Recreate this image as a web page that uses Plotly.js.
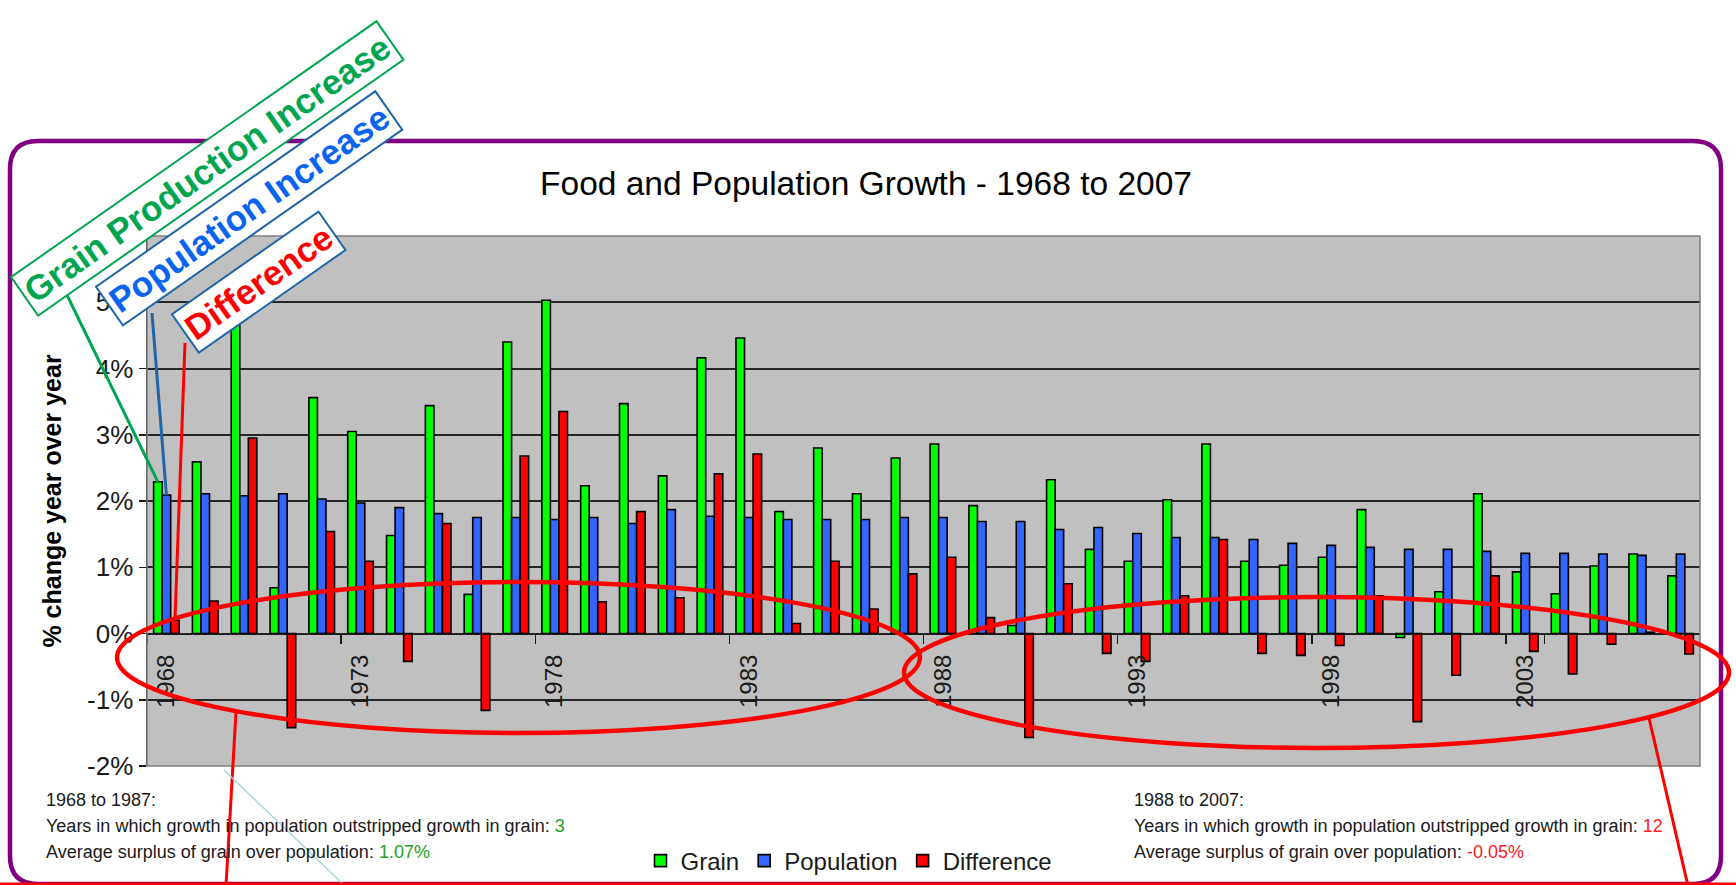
<!DOCTYPE html>
<html>
<head>
<meta charset="utf-8">
<script src="https://cdn.plot.ly/plotly-3.0.1.min.js"></script>
<style>html,body{margin:0;padding:0;background:#fff;overflow:hidden;}#chart{width:1736px;height:885px;}</style>
</head>
<body>
<div id="chart"></div>
<script>
// ---- data ----
const years = ['1968','1969','1970','1971','1972','1973','1974','1975','1976','1977',
               '1978','1979','1980','1981','1982','1983','1984','1985','1986','1987',
               '1988','1989','1990','1991','1992','1993','1994','1995','1996','1997',
               '1998','1999','2000','2001','2002','2003','2004','2005','2006','2007'];
const grain = [2.29, 2.59, 5.03, 0.69, 3.56, 3.05, 1.48, 3.44, 0.59, 4.40,
               5.03, 2.23, 3.47, 2.38, 4.16, 4.46, 1.84, 2.80, 2.11, 2.65,
               2.86, 1.93, 0.12, 2.32, 1.27, 1.09, 2.02, 2.86, 1.09, 1.03,
               1.15, 1.87, -0.06, 0.63, 2.11, 0.93, 0.60, 1.02, 1.20, 0.87];
const population = [2.09, 2.11, 2.08, 2.11, 2.03, 1.97, 1.90, 1.81, 1.75, 1.75,
                    1.72, 1.75, 1.66, 1.87, 1.77, 1.75, 1.72, 1.72, 1.72, 1.75,
                    1.75, 1.69, 1.69, 1.57, 1.60, 1.51, 1.45, 1.45, 1.42, 1.36,
                    1.33, 1.30, 1.27, 1.27, 1.24, 1.21, 1.21, 1.20, 1.18, 1.20];
const difference = [0.20, 0.49, 2.95, -1.42, 1.54, 1.09, -0.42, 1.66, -1.16, 2.68,
                    3.35, 0.48, 1.84, 0.54, 2.41, 2.71, 0.15, 1.09, 0.37, 0.90,
                    1.15, 0.24, -1.57, 0.75, -0.30, -0.42, 0.57, 1.42, -0.30, -0.33,
                    -0.18, 0.57, -1.33, -0.63, 0.87, -0.27, -0.61, -0.16, 0.02, -0.31];
const xTickLabels = ['1968','1973','1978','1983','1988','1993','1998','2003'];
const yTickVals = [-2, -1, 0, 1, 2, 3, 4, 5, 6];
const yTickText = ['-2%', '-1%', '0%', '1%', '2%', '3%', '4%', '5%', '6%'];
const seriesNames = ['Grain', 'Population', 'Difference'];

// ---- geometry helpers (page pixels -> paper) ----
const W = 1736, H = 885;
const L = 147, R = 1700, T = 236, B = 766;
const yMin = -2, yMax = 6;
const bargap = 0.34;
function px(x){ return (x - L) / (R - L); }
function py(y){ return (B - y) / (B - T); }
function pyData(y){ return yMin + (B - y) / (B - T) * (yMax - yMin); }
const catW = (R - L) / years.length;
const barW = catW * (1 - bargap) / 3;

const FONT = 'Liberation Sans, Arial, sans-serif';
const colors = ['#00FF00', '#3366FF', '#FF0000'];
const seriesData = [grain, population, difference];

const traces = seriesData.map((vals, i) => ({
  type: 'bar',
  name: seriesNames[i],
  x: years,
  y: vals,
  marker: { color: colors[i], line: { color: '#000', width: 1.6 } },
  hoverinfo: 'x+y'
}));

// rounded purple border
function roundRect(x0, y0, x1, y1, r){
  const P = (x, y) => px(x) + ',' + py(y);
  return 'M' + P(x0 + r, y0) + ' L' + P(x1 - r, y0) + ' Q' + P(x1, y0) + ' ' + P(x1, y0 + r) +
         ' L' + P(x1, y1 - r) + ' Q' + P(x1, y1) + ' ' + P(x1 - r, y1) +
         ' L' + P(x0 + r, y1) + ' Q' + P(x0, y1) + ' ' + P(x0, y1 - r) +
         ' L' + P(x0, y0 + r) + ' Q' + P(x0, y0) + ' ' + P(x0 + r, y0) + ' Z';
}

// leader line from a label box to the first bar of a series
function leader(seriesIdx, tailX, tailY, color){
  const headX = L + catW * 0.5 + (seriesIdx - 1) * barW;
  return {
    type: 'line', xref: 'paper', yref: 'y',
    x0: px(tailX), y0: pyData(tailY),
    x1: px(headX), y1: seriesData[seriesIdx][0],
    line: { color: color, width: 3 }, layer: 'above'
  };
}

const shapes = [
  { type: 'path', xref: 'paper', yref: 'paper', path: roundRect(10, 141, 1721, 884, 28),
    line: { color: '#800080', width: 4.5 }, layer: 'above' },
  { type: 'rect', xref: 'paper', yref: 'paper', x0: 0, x1: 1, y0: 0, y1: 1,
    line: { color: '#7F7F7F', width: 1.5 }, layer: 'above' },
  leader(0, 66, 293, '#00A550'),
  leader(1, 152, 313, '#1F66A8'),
  leader(2, 185, 343, '#FF0000'),
  { type: 'circle', xref: 'paper', yref: 'paper', x0: px(117), x1: px(920), y0: py(733), y1: py(582),
    line: { color: '#FF0000', width: 4.5 }, layer: 'above' },
  { type: 'circle', xref: 'paper', yref: 'paper', x0: px(904), x1: px(1729), y0: py(748), y1: py(597),
    line: { color: '#FF0000', width: 4.5 }, layer: 'above' },
  { type: 'line', xref: 'paper', yref: 'paper', x0: px(236), y0: py(712), x1: px(226), y1: py(886),
    line: { color: '#FF0000', width: 3 }, layer: 'above' },
  { type: 'line', xref: 'paper', yref: 'paper', x0: px(1649), y0: py(718), x1: px(1688), y1: py(886),
    line: { color: '#FF0000', width: 3 }, layer: 'above' },
  { type: 'line', xref: 'paper', yref: 'paper', x0: px(224), y0: py(770), x1: px(345), y1: py(886),
    line: { color: '#A9D6DE', width: 1.5 }, layer: 'above' },
  { type: 'line', xref: 'paper', yref: 'paper', x0: px(0), y0: py(884), x1: px(W), y1: py(884),
    line: { color: '#FF0000', width: 3 }, layer: 'above' }
];

function box(text, cx, cy, color, border){
  return {
    xref: 'paper', yref: 'paper', x: px(cx), y: py(cy), xanchor: 'center', yanchor: 'middle',
    text: '<b>' + text + '</b>', textangle: -35, showarrow: false,
    font: { family: FONT, size: 35, color: color },
    bgcolor: '#FFFFFF', bordercolor: border, borderwidth: 2, borderpad: 3
  };
}

function note(text, x, y){
  return {
    xref: 'paper', yref: 'paper', x: px(x), y: py(y), xanchor: 'left', yanchor: 'middle',
    text: text, showarrow: false, font: { family: FONT, size: 18, color: '#1a1a1a' }
  };
}

const annotations = [
  box('Grain Production Increase', 207, 168, '#00A550', '#00A550'),
  box('Population Increase', 249, 209, '#0A64F0', '#1F66A8'),
  box('Difference', 258, 282, '#FF0000', '#1F66A8'),
  note('1968 to 1987:', 44, 800),
  note('Years in which growth in population outstripped growth in grain: <span style="color:#22A022">3</span>', 44, 826),
  note('Average surplus of grain over population: <span style="color:#22A022">1.07%</span>', 44, 852),
  note('1988 to 2007:', 1132, 800),
  note('Years in which growth in population outstripped growth in grain: <span style="color:#FF2020">12</span>', 1132, 826),
  note('Average surplus of grain over population: <span style="color:#FF2020">-0.05%</span>', 1132, 852)
];

const layout = {
  width: W, height: H,
  margin: { l: L, r: W - R, t: T, b: H - B, pad: 0, autoexpand: false },
  paper_bgcolor: '#FFFFFF',
  plot_bgcolor: '#C0C0C0',
  font: { family: FONT, color: '#1a1a1a' },
  title: {
    text: 'Food and Population Growth - 1968 to 2007',
    xref: 'container', yref: 'container', x: 866 / W, y: 1 - 183 / H,
    xanchor: 'center', yanchor: 'middle',
    font: { family: FONT, size: 33.5, color: '#000' }
  },
  barmode: 'group', bargap: bargap, bargroupgap: 0,
  showlegend: true,
  legend: {
    orientation: 'h', x: px(849), y: py(861), xanchor: 'center', yanchor: 'middle',
    font: { family: FONT, size: 24, color: '#1a1a1a' }, bgcolor: 'rgba(0,0,0,0)',
    traceorder: 'normal', itemwidth: 30
  },
  xaxis: {
    type: 'category', anchor: 'free', position: (0 - yMin) / (yMax - yMin),
    range: [-0.5, years.length - 0.5], fixedrange: true, automargin: false,
    showline: true, linecolor: '#1a1a1a', linewidth: 1.5,
    ticks: 'outside', tickson: 'boundaries', ticklen: 9, tickwidth: 1.5, tickcolor: '#1a1a1a',
    tickmode: 'array', tickvals: xTickLabels, ticktext: xTickLabels, tickangle: -90,
    ticklabelstandoff: 10,
    tickfont: { family: FONT, size: 24, color: '#1a1a1a' },
    showgrid: false, zeroline: false
  },
  yaxis: {
    range: [yMin, yMax], fixedrange: true, automargin: false,
    tickmode: 'array', tickvals: yTickVals, ticktext: yTickText,
    showline: true, linecolor: '#1a1a1a', linewidth: 1.5,
    ticks: 'outside', ticklen: 7, tickwidth: 1.5, tickcolor: '#1a1a1a',
    ticklabelstandoff: 0,
    tickfont: { family: FONT, size: 26, color: '#1a1a1a' },
    showgrid: true, gridcolor: '#262626', gridwidth: 2, zeroline: false,
    title: { text: '<b>% change year over year</b>', standoff: 18,
             font: { family: FONT, size: 25, color: '#000' } }
  },
  shapes: shapes,
  annotations: annotations
};

Plotly.newPlot('chart', traces, layout, { displayModeBar: false, staticPlot: true });
</script>
</body>
</html>
